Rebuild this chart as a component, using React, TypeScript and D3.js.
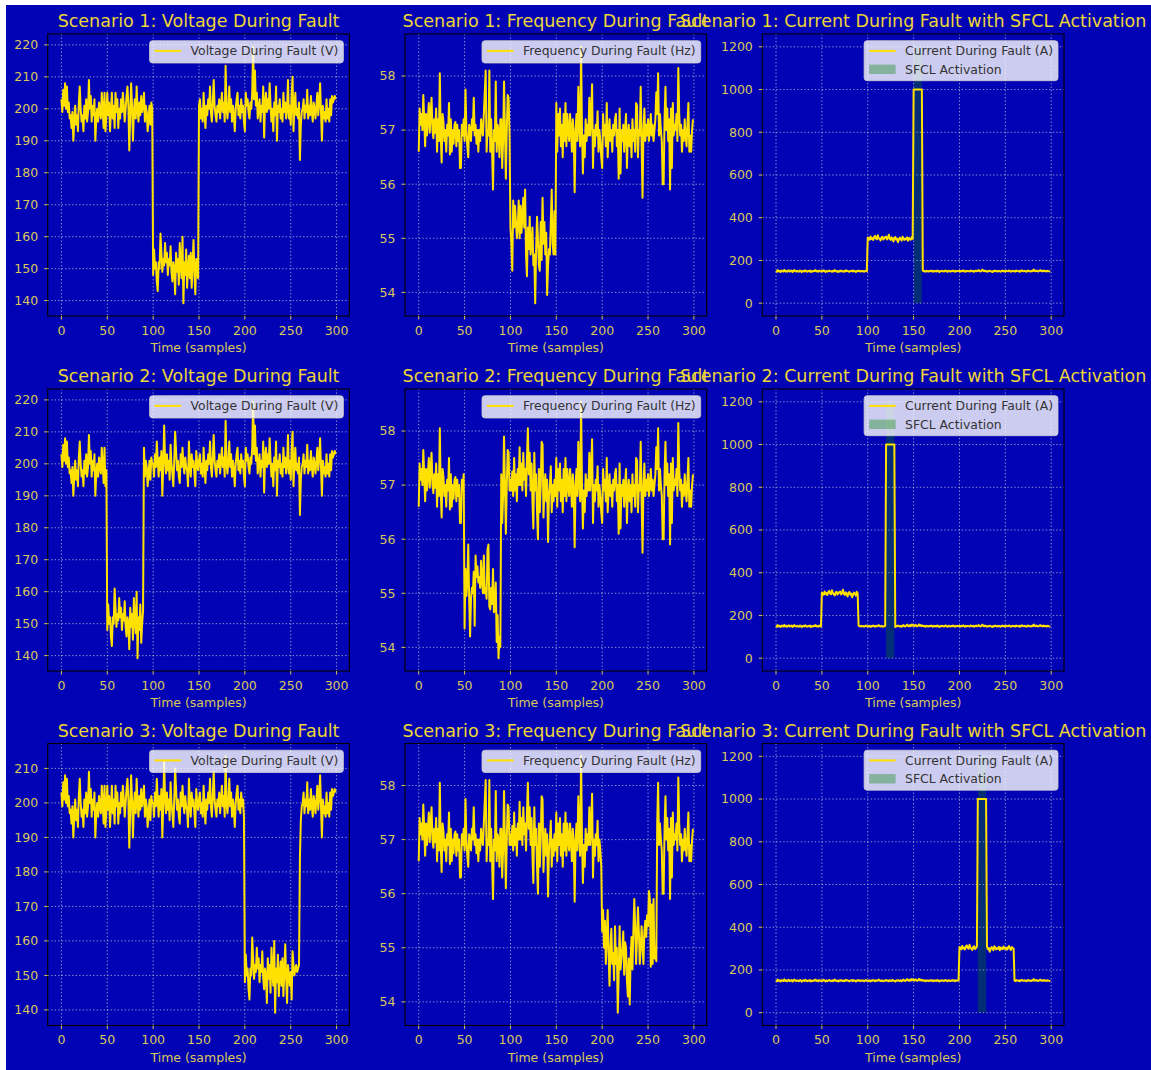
import * as d3 from "d3";

// ---- data ----
const voltageNormal = [
  203, 199, 206, 201, 208, 200, 207, 199, 202, 197,
  198, 194, 199, 190, 196, 201, 195, 198, 193, 202,
  207, 200, 196, 198, 193, 201, 197, 203, 196, 199,
  209, 200, 204, 196, 201, 198, 203, 190, 197, 200,
  196, 202, 199, 197, 205, 200, 194, 205, 193, 198,
  205, 198, 202, 193, 199, 205, 197, 201, 194, 205,
  199, 203, 194, 200, 197, 203, 199, 205, 201, 196,
  200, 204, 207, 201, 187, 198, 208, 201, 190, 199,
  203, 197, 207, 200, 196, 202, 198, 204, 199, 201,
  205, 196, 201, 199, 193, 197, 201, 195, 202, 200,
  200, 196, 203, 199, 207, 201, 196, 202, 198, 204,
  190, 199, 212, 201, 197, 203, 198, 201, 195, 206,
  200, 197, 193, 201, 210, 204, 198, 201, 196, 194,
  203, 199, 205, 200, 197, 202, 199, 198, 193, 207,
  200, 196, 203, 199, 201, 197, 193, 204, 200, 198,
  201, 203, 197, 200, 196, 205, 199, 194, 201, 198,
  203, 200, 207, 199, 196, 202, 209, 201, 198, 196,
  201, 199, 203, 197, 201, 205, 199, 202, 196, 213.5,
  200, 197, 201, 207, 199, 203, 196, 201, 198, 193,
  200, 203, 205, 198, 201, 197, 203, 199, 201, 196,
  193, 205, 201, 203, 199, 197, 202, 200, 205, 219.4,
  203, 212, 201, 205, 197, 200, 203, 196, 201, 199,
  207, 191, 202, 205, 199, 203, 200, 208, 201, 196,
  200, 193, 202, 198, 207, 190, 201, 199, 203, 197,
  200, 196, 205, 199, 202, 197, 200, 209, 197, 201,
  195, 204, 210, 193, 201, 205, 198, 200, 197, 202,
  184, 195, 199, 200, 203, 197, 201, 199, 206, 197,
  201, 198, 204, 199, 196, 202, 200, 197, 201, 205,
  198, 202, 208, 199, 190, 201, 197, 199, 196, 203,
  197, 200, 196, 203, 198, 204, 202, 203, 204, 203,
];

const voltageFault = [
  148, 156, 150, 152, 146, 143, 152, 150, 161, 155,
  149, 153, 151, 158, 152, 155, 148, 153, 151, 157,
  149, 146, 152, 150, 142, 155, 149, 153, 145, 158,
  151, 147, 160, 139.2, 152, 148, 156, 144, 150, 154,
  147, 155, 144, 151, 159, 149, 142, 153, 150, 147,
  151, 143, 157, 153, 150, 152, 153, 151, 152, 153,
];

const frequencyNormal = [
  56.6, 57.4, 57.1, 57.3, 57.0, 57.65, 57.2, 56.7, 57.3, 56.9,
  57.2, 57.5, 56.95, 57.3, 57.6, 57.0, 56.85, 57.2, 56.95, 57.4,
  56.6, 57.2, 56.8, 58.05, 56.9, 56.4, 57.3, 57.15, 56.8, 57.0,
  56.6, 57.1, 56.9, 57.5, 56.55, 57.2, 56.6, 57.0, 56.75, 57.1,
  57.15, 56.7, 57.1, 56.8, 57.0, 56.3, 56.3, 57.1, 56.9, 57.2,
  56.8, 57.75, 57.0, 56.7, 56.5, 57.1, 57.0, 56.8, 57.2, 57.0,
  57.6, 56.9, 57.1, 56.75, 57.0, 56.6, 57.0, 56.8, 57.2, 57.0,
  56.9, 57.3, 57.7, 58.1, 56.6, 57.0, 56.9, 58.1, 56.6, 57.2,
  56.6, 55.9, 57.0, 56.8, 57.9, 56.6, 57.1, 57.0, 56.5, 57.2,
  57.2, 56.3, 56.8, 57.9, 57.0, 56.1, 57.0, 57.65, 57.6, 56.9,
  57.1, 56.9, 57.25, 56.8, 57.5, 56.9, 57.2, 56.7, 57.3, 57.0,
  57.7, 57.0, 57.4, 56.9, 57.6, 57.1, 57.3, 56.8, 57.5, 58.05,
  57.2, 57.6, 56.9, 57.4, 56.7, 56.2, 57.6, 56.9, 57.2, 56.5,
  56.0, 57.3, 56.5, 57.0, 57.8, 57.75, 56.4, 56.9, 57.2, 56.7,
  57.1, 55.95, 56.8, 57.0, 57.35, 56.5, 57.0, 56.7, 57.1, 56.8,
  57.5, 56.6, 57.3, 56.9, 57.4, 56.7, 57.1, 56.5, 57.3, 56.8,
  57.5, 56.7, 57.3, 57.0, 56.8, 57.3, 57.0, 56.6, 57.2, 56.9,
  55.85, 57.0, 57.3, 56.8, 57.8, 57.1, 56.7, 58.54, 57.0, 56.2,
  56.9, 56.5, 57.2, 56.8, 57.1, 56.9, 57.6, 56.9, 57.3, 57.85,
  56.3, 57.0, 56.7, 57.1, 56.9, 57.35, 56.6, 57.0, 56.8, 56.5,
  56.3, 57.3, 56.9, 57.1, 56.7, 57.5, 56.5, 56.9, 57.2, 56.8,
  57.0, 56.6, 57.1, 56.9, 57.2, 57.3, 56.7, 57.0, 56.1, 57.4,
  56.2, 57.0, 56.8, 57.1, 56.6, 57.0, 57.3, 56.3, 56.9, 57.1,
  56.7, 57.0, 56.5, 57.2, 56.8, 57.0, 56.6, 57.5, 57.45, 56.5,
  57.0, 56.9, 57.8, 56.7, 55.75, 57.0, 57.4, 56.8, 57.1, 56.9,
  57.2, 56.8, 57.0, 57.3, 56.9, 57.1, 56.8, 57.0, 57.2, 57.7,
  57.3, 58.05, 56.9, 57.3, 57.0, 56.8, 56.0, 56.0, 57.2, 57.8,
  57.0, 57.4, 56.8, 57.2, 55.9, 57.4, 56.3, 57.5, 56.9, 57.1,
  57.0, 57.3, 56.8, 58.15, 57.3, 56.9, 57.1, 56.6, 57.0, 56.8,
  57.2, 56.9, 56.7, 57.1, 57.5, 56.6, 56.9, 56.6, 57.0, 57.2,
];

const frequencyFaultS1 = [
  55.2, 54.9, 54.4, 55.7, 55.2, 55.6, 55.3, 55.0, 55.2, 55.7,
  55.0, 55.6, 55.1, 55.4, 55.75, 55.2, 55.9, 54.7, 54.3, 55.2,
  54.8, 55.4, 54.7, 54.9, 55.2, 54.5, 54.7, 53.8, 54.8, 55.4,
  55.0, 54.5, 54.4, 55.3, 54.6, 55.75, 54.9, 55.3, 54.7, 55.1,
  53.95, 54.5, 54.8, 54.7, 55.3, 55.9, 54.9, 54.7, 55.5, 54.7,
];

const frequencyFaultS2 = [
  54.35, 55.45, 54.95, 55.2, 55.9, 54.9, 54.2, 54.9, 55.1, 55.0,
  55.4, 54.4, 55.7, 55.3, 55.5, 55.2, 55.3, 55.1, 55.6, 55.25,
  55.0, 55.7, 55.0, 55.1, 54.9, 55.8, 55.9, 54.75, 54.7, 55.1,
  54.8, 55.45, 54.65, 54.7, 55.2, 54.1, 54.6, 53.8, 54.2, 54.0,
];

const frequencyFaultS3 = [
  55.3, 55.7, 55.0, 55.5, 54.7, 55.2, 55.7, 54.9, 54.3, 55.0,
  55.35, 54.7, 54.9, 54.4, 55.4, 54.7, 55.0, 53.8, 54.5, 55.4,
  54.6, 54.8, 55.0, 55.3, 54.5, 55.1, 55.0, 54.4, 54.1, 54.8,
  53.95, 54.8, 55.2, 54.6, 55.3, 55.9, 55.4, 54.7, 55.2, 55.75,
  55.3, 54.7, 55.0, 55.4, 55.0, 54.7, 55.3, 55.5, 55.2, 55.6,
  55.4, 56.05, 55.9, 54.65, 55.8, 54.7, 55.9, 54.8, 55.0, 54.75,
];

const currentNormal = [
  152, 147, 155, 149, 151, 146, 153, 150, 148, 156,
  149, 152, 147, 151, 154, 148, 150, 153, 146, 151,
  155, 150, 148, 152, 149, 147, 153, 151, 145, 150,
  152, 148, 154, 150, 147, 151, 149, 153, 146, 150,
  148, 152, 150, 155, 149, 151, 147, 153, 150, 148,
  151, 149, 154, 150, 146, 152, 148, 150, 153, 149,
  150, 147, 152, 149, 155, 151, 148, 150, 146, 152,
  149, 153, 150, 147, 151, 148, 154, 150, 152, 149,
  147, 151, 150, 153, 148, 152, 150, 146, 151, 149,
  153, 150, 148, 152, 149, 151, 147, 150, 153, 149,
  150, 148, 152, 146, 151, 149, 153, 150, 147, 152,
  149, 151, 155, 150, 148, 152, 149, 147, 151, 150,
  153, 149, 151, 147, 152, 150, 148, 154, 150, 149,
  146, 151, 149, 153, 150, 148, 152, 147, 151, 155,
  150, 148, 153, 157, 151, 149, 155, 150, 158, 152,
  154, 150, 156, 152, 149, 153, 158, 151, 155, 150,
  153, 149, 151, 147, 152, 150, 148, 151, 149, 153,
  150, 147, 152, 149, 151, 148, 153, 150, 146, 151,
  149, 152, 150, 148, 151, 153, 149, 147, 152, 150,
  148, 151, 149, 153, 150, 147, 152, 149, 151, 150,
  152, 148, 151, 149, 154, 150, 147, 152, 149, 151,
  150, 148, 153, 151, 149, 152, 147, 150, 153, 149,
  151, 155, 150, 148, 152, 157, 151, 149, 153, 150,
  147, 151, 149, 152, 150, 148, 146, 151, 149, 153,
  150, 148, 152, 149, 151, 147, 150, 153, 149, 151,
  148, 152, 150, 149, 153, 151, 147, 150, 152, 149,
  151, 148, 153, 150, 149, 152, 147, 151, 154, 150,
  149, 152, 150, 147, 151, 153, 149, 150, 148, 152,
  150, 157, 151, 149, 153, 150, 148, 152, 155, 150,
  152, 149, 153, 150, 151, 148, 152, 150, 149, 147,
];

const currentFault = [
  308, 302, 297, 312, 300, 305, 296, 310, 315, 303,
  299, 318, 304, 300, 294, 307, 311, 298, 303, 309,
  312, 298, 305, 320, 301, 296, 308, 302, 289, 305,
  310, 297, 303, 285, 298, 307, 300, 293, 311, 304,
  296, 302, 299, 308, 292, 305, 300, 297, 310, 301,
  298, 304, 295, 306, 312, 300, 294, 307, 303, 300,
];

const sfclCurrent = 1000;
const sfclBand = [0, 1200];

const scenarios = [1, 2, 3];
const faultStart = [100, 50, 200];
const faultEnd = [150, 90, 260];
const sfclStart = [150, 120, 220];
const sfclEnd = [160, 130, 230];
const frequencyFaults = [frequencyFaultS1, frequencyFaultS2, frequencyFaultS3];

const xTicks = [0, 50, 100, 150, 200, 250, 300];
const voltageTicks = [
  [140, 150, 160, 170, 180, 190, 200, 210, 220],
  [140, 150, 160, 170, 180, 190, 200, 210, 220],
  [140, 150, 160, 170, 180, 190, 200, 210],
];
const frequencyTicks = [54, 55, 56, 57, 58];
const currentTicks = [0, 200, 400, 600, 800, 1000, 1200];

// ---- layout / style ----
const W = 1151;
const H = 1070;
const colLeft = [47.7, 405, 762.3];
const rowTop = [34, 389, 743.5];
const axW = 301.7;
const axH = 282;

const BG = "#0303b6";
const TITLE = "#ecd634";
const TICK = "#d8c858";
const LINE = "#ffe100";
const FONT = "'DejaVu Sans', sans-serif";
const TICK_SIZE = 12.5;
const LEGEND_SIZE = 12.4;
const TITLE_SIZE = 17.5;

const splice = (base: number[], seg: number[], s: number, e: number) =>
  base.map((v, i) => (i >= s && i < e ? seg[i - s] : v));

let ctx: CanvasRenderingContext2D | null = null;
const textWidth = (t: string, size: number) => {
  if (!ctx) ctx = document.createElement("canvas").getContext("2d");
  if (!ctx) return t.length * size * 0.6;
  ctx.font = `${size}px 'DejaVu Sans'`;
  return ctx.measureText(t).width;
};

interface LegendEntry {
  label: string;
  kind: "line" | "patch";
}

interface PanelProps {
  left: number;
  top: number;
  title: string;
  values: number[];
  yTicks: number[];
  legend: LegendEntry[];
  band?: [number, number];
}

const Panel = ({ left, top, title, values, yTicks, legend, band }: PanelProps) => {
  // matplotlib-style 5% margins on both axes
  const xMax = values.length - 1;
  const xPad = xMax * 0.05;
  const x = d3.scaleLinear().domain([-xPad, xMax + xPad]).range([left, left + axW]);

  let lo = d3.min(values)!;
  let hi = d3.max(values)!;
  if (band) {
    lo = Math.min(lo, sfclBand[0]);
    hi = Math.max(hi, sfclBand[1]);
  }
  const yPad = (hi - lo) * 0.05;
  const y = d3.scaleLinear().domain([lo - yPad, hi + yPad]).range([top + axH, top]);

  const line = d3
    .line<number>()
    .x((_, i) => x(i))
    .y((d) => y(d));

  const right = left + axW;
  const bottom = top + axH;

  const legendW = d3.max(legend, (e) => textWidth(e.label, LEGEND_SIZE))! + 46;
  const legendH = legend.length === 1 ? 22.3 : 40;
  const lx = right - 6 - legendW;
  const ly = top + 6.7;

  return (
    <g>
      {band && (
        <rect
          x={x(band[0])}
          y={y(sfclBand[1])}
          width={x(band[1]) - x(band[0])}
          height={y(sfclBand[0]) - y(sfclBand[1])}
          fill="#008000"
          fillOpacity={0.35}
        />
      )}
      {/* grid */}
      {xTicks.map((t) => (
        <line key={"gx" + t} x1={x(t)} x2={x(t)} y1={top} y2={bottom}
          stroke="#dcdcdc" strokeOpacity={0.75} strokeWidth={0.9} strokeDasharray="1.3 2.2" />
      ))}
      {yTicks.map((t) => (
        <line key={"gy" + t} x1={left} x2={right} y1={y(t)} y2={y(t)}
          stroke="#dcdcdc" strokeOpacity={0.75} strokeWidth={0.9} strokeDasharray="1.3 2.2" />
      ))}
      <path d={line(values)!} fill="none" stroke={LINE} strokeWidth={2} strokeLinejoin="round" />
      <rect x={left} y={top} width={axW} height={axH} fill="none" stroke="#000" strokeWidth={1.1} />
      {/* ticks */}
      {xTicks.map((t) => (
        <g key={"tx" + t}>
          <line x1={x(t)} x2={x(t)} y1={bottom} y2={bottom + 3.5} stroke={TICK} />
          <text x={x(t)} y={bottom + 18.7} textAnchor="middle" fontSize={TICK_SIZE} fill={TICK} fontFamily={FONT}>
            {t}
          </text>
        </g>
      ))}
      {yTicks.map((t) => (
        <g key={"ty" + t}>
          <line x1={left - 3.5} x2={left} y1={y(t)} y2={y(t)} stroke={TICK} />
          <text x={left - 9.5} y={y(t)} dy="0.35em" textAnchor="end" fontSize={TICK_SIZE} fill={TICK} fontFamily={FONT}>
            {t}
          </text>
        </g>
      ))}
      <text x={(left + right) / 2} y={bottom + 36} textAnchor="middle" fontSize={TICK_SIZE} fill={TICK} fontFamily={FONT}>
        Time (samples)
      </text>
      <text x={(left + right) / 2} y={top - 7} textAnchor="middle" fontSize={TITLE_SIZE} fill={TITLE} fontFamily={FONT}>
        {title}
      </text>
      {/* legend */}
      <rect x={lx} y={ly} width={legendW} height={legendH} rx={3}
        fill="#fff" fillOpacity={0.8} stroke="#cccccc" strokeOpacity={0.8} />
      {legend.map((e, i) => {
        const cy = ly + 10.2 + i * 18.4;
        return (
          <g key={e.label}>
            {e.kind === "line" ? (
              <line x1={lx + 5} x2={lx + 31.5} y1={cy} y2={cy} stroke={LINE} strokeWidth={2} />
            ) : (
              <rect x={lx + 5} y={cy - 4.7} width={26.5} height={9.4} fill="#008000" fillOpacity={0.35} />
            )}
            <text x={lx + 41} y={cy} dy="0.35em" fontSize={LEGEND_SIZE} fill="#333" fontFamily={FONT}>
              {e.label}
            </text>
          </g>
        );
      })}
    </g>
  );
};

export default function App() {
  return (
    <svg width={W} height={H} style={{ position: "absolute", left: 0, top: 0 }}>
      <rect x={0} y={0} width={W} height={H} fill="#fff" />
      <rect x={6} y={5} width={W - 6} height={H - 5} fill={BG} />
      {scenarios.map((n, r) => {
        const s = faultStart[r];
        const e = faultEnd[r];
        const voltage = splice(voltageNormal, voltageFault, s, e);
        const frequency = splice(frequencyNormal, frequencyFaults[r], s, e);
        const currentBase = splice(currentNormal, currentFault, s, e);
        const current = currentBase.map((v, i) =>
          i >= sfclStart[r] && i < sfclEnd[r] ? sfclCurrent : v
        );
        return (
          <g key={n}>
            <Panel
              left={colLeft[0]}
              top={rowTop[r]}
              title={`Scenario ${n}: Voltage During Fault`}
              values={voltage}
              yTicks={voltageTicks[r]}
              legend={[{ label: "Voltage During Fault (V)", kind: "line" }]}
            />
            <Panel
              left={colLeft[1]}
              top={rowTop[r]}
              title={`Scenario ${n}: Frequency During Fault`}
              values={frequency}
              yTicks={frequencyTicks}
              legend={[{ label: "Frequency During Fault (Hz)", kind: "line" }]}
            />
            <Panel
              left={colLeft[2]}
              top={rowTop[r]}
              title={`Scenario ${n}: Current During Fault with SFCL Activation`}
              values={current}
              yTicks={currentTicks}
              band={[sfclStart[r], sfclEnd[r] - 1]}
              legend={[
                { label: "Current During Fault (A)", kind: "line" },
                { label: "SFCL Activation", kind: "patch" },
              ]}
            />
          </g>
        );
      })}
    </svg>
  );
}
